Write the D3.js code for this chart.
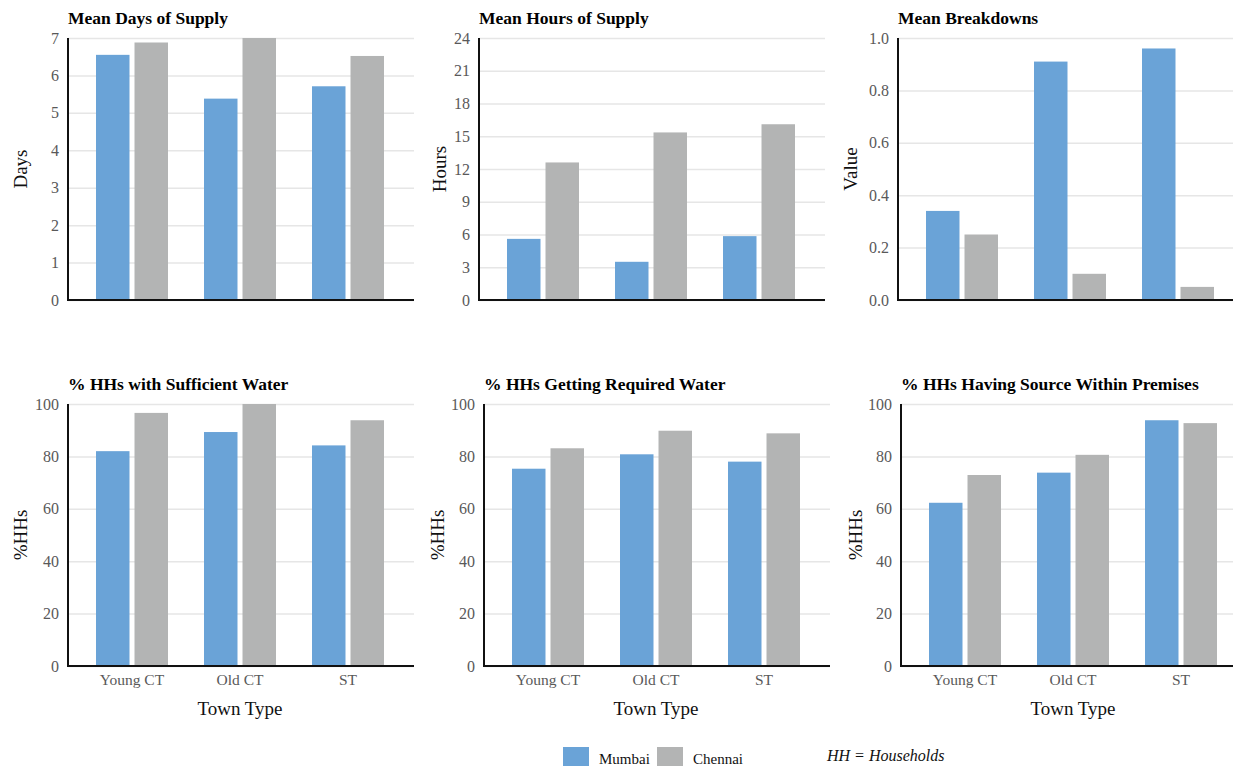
<!DOCTYPE html>
<html>
<head>
<meta charset="utf-8">
<script src="https://cdn.jsdelivr.net/npm/d3@7"></script>
<style>
  body { margin: 0; background: #fff; }
  svg text { font-family: "Liberation Serif", "DejaVu Serif", serif !important; }
</style>
</head>
<body>
<div id="chart"></div>
<script>
const width = 1233,
  height = 766;

const townTypes = ["Young CT", "Old CT", "ST"];
const cities = ["Mumbai", "Chennai"];
const colors = ["#6aa3d7", "#b3b4b4"];

// values, [Mumbai, Chennai] per town type
const meanDays = [[6.55, 6.88], [5.38, 7.0], [5.71, 6.52]];
const meanHours = [[5.6, 12.6], [3.5, 15.35], [5.85, 16.1]];
const meanBreakdowns = [[0.34, 0.25], [0.91, 0.1], [0.96, 0.05]];
const pctSufficient = [[82, 96.6], [89.3, 100], [84.2, 93.8]];
const pctRequired = [[75.3, 83.1], [80.8, 89.8], [78, 88.8]];
const pctPremises = [[62.3, 72.9], [73.8, 80.6], [93.8, 92.7]];

const daysTicks = [0, 1, 2, 3, 4, 5, 6, 7];
const hoursTicks = [0, 3, 6, 9, 12, 15, 18, 21, 24];
const breakdownTicks = [0, 0.2, 0.4, 0.6, 0.8, 1.0];
const pctTicks = [0, 20, 40, 60, 80, 100];

const panels = [
  { title: "Mean Days of Supply", yLabel: "Days", values: meanDays, ticks: daysTicks, fmt: d3.format("d"),
    x0: 68, top: 38, bottom: 300, labelX: 20, xLabels: false },
  { title: "Mean Hours of Supply", yLabel: "Hours", values: meanHours, ticks: hoursTicks, fmt: d3.format("d"),
    x0: 479, top: 38, bottom: 300, labelX: 439, xLabels: false },
  { title: "Mean Breakdowns", yLabel: "Value", values: meanBreakdowns, ticks: breakdownTicks, fmt: d3.format(".1f"),
    x0: 898, top: 38, bottom: 300, labelX: 850, xLabels: false },
  { title: "% HHs with Sufficient Water", yLabel: "%HHs", values: pctSufficient, ticks: pctTicks, fmt: d3.format("d"),
    x0: 68, top: 404, bottom: 666, labelX: 20, xLabels: true },
  { title: "% HHs Getting Required Water", yLabel: "%HHs", values: pctRequired, ticks: pctTicks, fmt: d3.format("d"),
    x0: 484, top: 404, bottom: 666, labelX: 437, xLabels: true },
  { title: "% HHs Having Source Within Premises", yLabel: "%HHs", values: pctPremises, ticks: pctTicks, fmt: d3.format("d"),
    x0: 901, top: 404, bottom: 666, labelX: 855, xLabels: true }
];

const svg = d3
  .select("#chart")
  .append("svg")
  .attr("width", width)
  .attr("height", height);

panels.forEach(drawPanel);

function drawPanel(p) {
  const plotW = 346;
  const g = svg.append("g");

  const yScale = d3
    .scaleLinear()
    .domain(d3.extent(p.ticks))
    .range([p.bottom, p.top]);

  const xScale = d3
    .scaleBand()
    .domain(townTypes)
    .range([p.x0 + 10, p.x0 + 334]);

  const xSub = d3
    .scaleBand()
    .domain(cities)
    .range([-36, 36])
    .paddingInner(0.13);

  // gridlines + y tick labels
  const yAxis = d3
    .axisLeft(yScale)
    .tickValues(p.ticks)
    .tickFormat(p.fmt)
    .tickSize(-plotW)
    .tickPadding(9);

  g.append("g")
    .attr("transform", `translate(${p.x0},0)`)
    .call(yAxis)
    .call(a => a.select(".domain").remove())
    .call(a => a.selectAll(".tick line").attr("stroke", "#e6e6e6").attr("stroke-width", 1.5))
    .call(a => a.selectAll(".tick text")
      .attr("fill", "#595959")
      .attr("font-size", 16));

  // bars
  const groups = g
    .selectAll(".group")
    .data(townTypes.map((t, i) => ({ town: t, vals: p.values[i] })))
    .join("g")
    .attr("class", "group")
    .attr("transform", d => `translate(${xScale(d.town) + xScale.bandwidth() / 2},0)`);

  groups
    .selectAll("rect")
    .data(d => d.vals.map((v, j) => ({ city: cities[j], value: v, color: colors[j] })))
    .join("rect")
    .attr("x", d => xSub(d.city))
    .attr("width", xSub.bandwidth())
    .attr("y", d => yScale(d.value))
    .attr("height", d => yScale(0) - yScale(d.value))
    .attr("fill", d => d.color);

  // axis lines
  g.append("line")
    .attr("x1", p.x0).attr("x2", p.x0)
    .attr("y1", p.top).attr("y2", p.bottom + 1)
    .attr("stroke", "#111").attr("stroke-width", 2);
  g.append("line")
    .attr("x1", p.x0 - 1).attr("x2", p.x0 + plotW)
    .attr("y1", p.bottom).attr("y2", p.bottom)
    .attr("stroke", "#111").attr("stroke-width", 2);

  // x tick labels
  if (p.xLabels) {
    const xAxis = d3.axisBottom(xScale).tickSize(0).tickPadding(8);
    g.append("g")
      .attr("transform", `translate(0,${p.bottom})`)
      .call(xAxis)
      .call(a => a.select(".domain").remove())
      .call(a => a.selectAll(".tick text")
        .attr("fill", "#595959")
        .attr("font-size", 15.5));

    g.append("text")
      .attr("x", p.x0 + 172)
      .attr("y", p.bottom + 49)
      .attr("text-anchor", "middle")
      .attr("font-size", 19)
      .attr("fill", "#111")
      .text("Town Type");
  }

  // title
  g.append("text")
    .attr("x", p.x0)
    .attr("y", p.top - 14)
    .attr("font-size", 17.5)
    .attr("font-weight", "bold")
    .attr("fill", "#000")
    .text(p.title);

  // y label
  g.append("text")
    .attr("transform", `translate(${p.labelX},${(p.top + p.bottom) / 2}) rotate(-90)`)
    .attr("text-anchor", "middle")
    .attr("dy", "0.35em")
    .attr("font-size", 19)
    .attr("fill", "#111")
    .text(p.yLabel);
}

// legend
const legend = svg
  .selectAll(".legend")
  .data(cities)
  .join("g")
  .attr("class", "legend")
  .attr("transform", (d, i) => `translate(${563 + i * 94},747)`);

legend.append("rect")
  .attr("width", 26)
  .attr("height", 20)
  .attr("fill", (d, i) => colors[i]);

legend.append("text")
  .attr("x", 36)
  .attr("y", 17)
  .attr("font-size", 15)
  .attr("fill", "#111")
  .text(d => d);

svg.append("text")
  .attr("x", 827)
  .attr("y", 761)
  .attr("font-size", 16)
  .attr("font-style", "italic")
  .attr("fill", "#111")
  .text("HH = Households");
</script>
</body>
</html>
